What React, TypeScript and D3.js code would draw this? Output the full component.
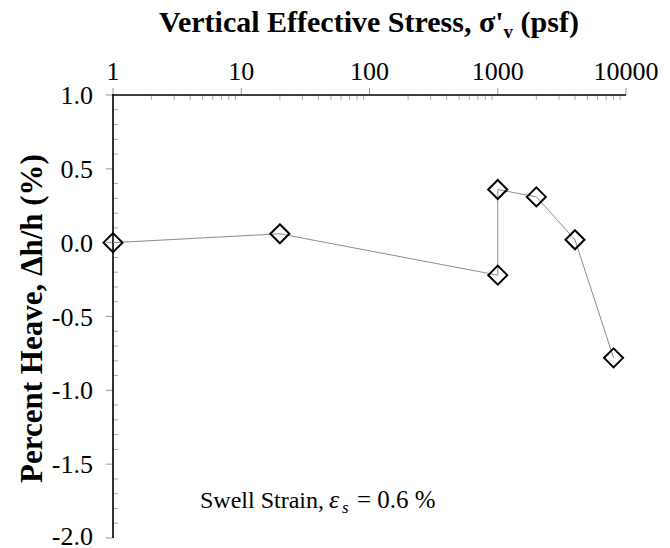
import React from 'react'
import * as d3 from 'd3'

const stress = [1, 20, 1000, 1000, 2000, 4000, 8000]
const heave = [0.0, 0.06, -0.22, 0.36, 0.31, 0.02, -0.78]
const xTickLabels = ['1', '10', '100', '1000', '10000']
const yTicks = [1.0, 0.5, 0.0, -0.5, -1.0, -1.5, -2.0]

const W = 670
const H = 548
const serif = "'Liberation Serif', Tinos, 'Times New Roman', 'DejaVu Serif', serif"

export default function App() {
  const x = d3.scaleLog().domain([1, 10000]).range([113, 626])
  const y = d3.scaleLinear().domain([-2, 1]).range([538, 95])

  const minorX: number[] = []
  for (let e = 0; e < 4; e++) {
    for (let m = 2; m <= 9; m++) minorX.push(m * Math.pow(10, e))
  }
  const minorY = d3.range(-20, 11).map(v => v / 10).filter(v => Math.abs(v * 2 - Math.round(v * 2)) > 1e-6)

  const line = d3.line<number>()
    .x((_, i) => x(stress[i]))
    .y(d => y(d))

  const r = 9.5
  const diamond = (cx: number, cy: number) =>
    `M${cx},${cy - r}L${cx + r},${cy}L${cx},${cy + r}L${cx - r},${cy}Z`

  const txt: React.CSSProperties = { fontFamily: serif }

  return (
    <svg width={W} height={H} style={{ position: 'absolute', left: 0, top: 0, background: '#fff', fontFamily: serif }}>
      {/* title */}
      <text x={369} y={32} textAnchor="middle" fontSize={30} fontWeight="bold" style={txt}>
        Vertical Effective Stress, σ'
        <tspan fontSize={19} dy={6}>v</tspan>
        <tspan dy={-6}> (psf)</tspan>
      </text>

      {/* y label */}
      <text transform={`translate(42,${(y(1) + y(-2)) / 2 + 2}) rotate(-90)`} textAnchor="middle"
        fontSize={31} fontWeight="bold" style={txt}>Percent Heave, Δh/h (%)</text>

      {/* top axis */}
      {minorX.map(v => (
        <line key={'mx' + v} x1={x(v)} x2={x(v)} y1={95} y2={100} stroke="#aaa" strokeWidth={1} />
      ))}
      {xTickLabels.map(t => (
        <g key={'xt' + t}>
          <line x1={x(+t)} x2={x(+t)} y1={88} y2={95} stroke="#999" strokeWidth={1} />
          <text x={x(+t)} y={80} textAnchor="middle" fontSize={26} style={txt}>{t}</text>
        </g>
      ))}
      <line x1={112} x2={x(10000)} y1={95} y2={95} stroke="#000" strokeWidth={1.6} />

      {/* left axis */}
      {minorY.map(v => (
        <line key={'my' + v} x1={113} x2={118} y1={y(v)} y2={y(v)} stroke="#aaa" strokeWidth={1} />
      ))}
      {yTicks.map(t => (
        <g key={'yt' + t}>
          <line x1={106} x2={113} y1={y(t)} y2={y(t)} stroke="#999" strokeWidth={1} />
          <text x={93} y={Math.min(y(t) + 9, 545)} textAnchor="end" fontSize={26} style={txt}>{t.toFixed(1)}</text>
        </g>
      ))}
      <line x1={113} x2={113} y1={94.2} y2={y(-2)} stroke="#000" strokeWidth={1.6} />

      {/* data */}
      <path d={line(heave) ?? ''} fill="none" stroke="#8c8c8c" strokeWidth={1} />
      {heave.map((v, i) => (
        <path key={'pt' + i} d={diamond(x(stress[i]), y(v))} fill="none" stroke="#000" strokeWidth={2} />
      ))}

      {/* annotation */}
      <text y={508} fontSize={24} style={txt}>
        <tspan x={200}>Swell Strain,</tspan>
        <tspan x={329} fontStyle="italic" fontSize={26}>ε</tspan>
        <tspan x={342} fontStyle="italic" fontSize={17} dy={5}>s</tspan>
        <tspan x={357} dy={-5} fontSize={25}>= 0.6 %</tspan>
      </text>
    </svg>
  )
}
